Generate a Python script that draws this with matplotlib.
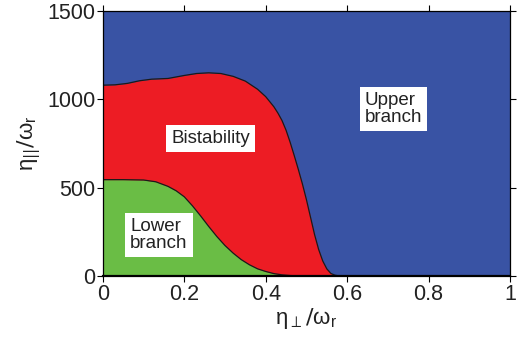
import numpy as np
import matplotlib
matplotlib.use("Agg")
import matplotlib.pyplot as plt

plt.rcParams['font.family'] = ['Liberation Sans', 'DejaVu Sans']
plt.rcParams['mathtext.fontset'] = 'dejavusans'

# upper edge of the bistable region (eta_perp, eta_par)
BI_X = [0.0, 0.03, 0.06, 0.09, 0.12, 0.16, 0.20, 0.23, 0.26, 0.29, 0.32, 0.35,
        0.38, 0.40, 0.42, 0.43, 0.44, 0.45, 0.46, 0.47, 0.48, 0.49, 0.50, 0.51,
        0.52, 0.53, 0.54, 0.55, 0.56, 0.57, 0.58, 1.0]
BI_Y = [1080, 1082, 1090, 1105, 1114, 1118, 1135, 1146, 1150, 1146, 1130, 1103,
        1057, 1015, 958, 922, 880, 825, 757, 682, 604, 522, 432, 333,
        234, 150, 85, 40, 14, 4, 0, 0]

# upper edge of the lower-branch region
LO_X = [0.0, 0.05, 0.10, 0.13, 0.16, 0.18, 0.20, 0.22, 0.24, 0.26, 0.28, 0.30,
        0.32, 0.34, 0.36, 0.38, 0.40, 0.42, 0.44, 0.46, 0.48, 1.0]
LO_Y = [545, 545, 543, 533, 507, 482, 448, 397, 340, 280, 223, 172,
        129, 92, 63, 40, 25, 13, 6, 2, 0, 0]

BLUE = "#3953a4"
RED = "#ed1c24"
GREEN = "#6abd45"

fig = plt.figure(figsize=(5.22, 3.44), dpi=100)
ax = fig.add_axes([0.197, 0.198, 0.780, 0.770])

ax.set_facecolor(BLUE)
ax.fill_between(BI_X, 0, BI_Y, color=RED, lw=0)
ax.plot(BI_X, BI_Y, color="#1a1a1a", lw=0.9)
ax.fill_between(LO_X, 0, LO_Y, color=GREEN, lw=0)
ax.plot(LO_X, LO_Y, color="#1a1a1a", lw=0.9)

box = dict(facecolor="white", edgecolor="none", pad=3.5)
ax.text(0.265, 778, "Bistability", ha="center", va="center", fontsize=13.5,
        color="#222222", bbox=box)
ax.text(0.713, 943, "Upper\nbranch", ha="center", va="center", fontsize=13.5,
        color="#222222", multialignment="left", bbox=box, linespacing=1.0)
ax.text(0.138, 233, "Lower\nbranch", ha="center", va="center", fontsize=13.5,
        color="#222222", multialignment="left", bbox=box, linespacing=1.0)

ax.set_xlim(0, 1)
ax.set_ylim(0, 1500)
ax.set_xticks([0, 0.2, 0.4, 0.6, 0.8, 1])
ax.set_xticklabels(["0", "0.2", "0.4", "0.6", "0.8", "1"])
ax.set_yticks([0, 500, 1000, 1500])
ax.tick_params(direction="out", length=4, width=0.8, labelsize=15.5,
               top=True, right=True, labelcolor="#222222", pad=1.5)
for s in ax.spines.values():
    s.set_linewidth(0.9)
ax.spines["bottom"].set_linewidth(1.6)

ax.set_xlabel(r"$\mathregular{η}_{\perp}/\mathregular{ω}_{\mathregular{r}}$",
              fontsize=16, color="#222222", labelpad=1)
ax.set_ylabel(r"$\mathregular{η}_{||}/\mathregular{ω}_{\mathregular{r}}$",
              fontsize=16, color="#222222", labelpad=3)

fig.savefig("out.png", dpi=100)
